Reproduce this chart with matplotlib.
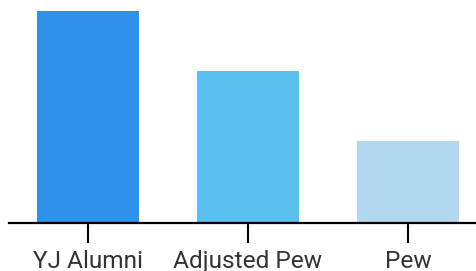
import matplotlib.pyplot as plt

categories = ["YJ Alumni", "Adjusted Pew", "Pew"]
values = [78, 56, 30]
colors = ["#2f92e9", "#5bbfef", "#b3d7ee"]

fig = plt.figure(figsize=(4.77, 2.71), dpi=100)
ax = fig.add_axes([9 / 477, 48 / 271, 468 / 477, 212 / 271])

x = range(len(categories))
ax.bar(x, values, width=0.64, color=colors)

ax.set_xlim(-0.494, 2.431)
ax.set_ylim(0, 78)

for side in ["top", "right", "left"]:
    ax.spines[side].set_visible(False)
ax.spines["bottom"].set_linewidth(1.6)
ax.spines["bottom"].set_color("black")

ax.set_yticks([])
ax.set_xticks(list(x))
ax.set_xticklabels(categories, fontfamily="Roboto", fontsize=17.6, color="#333333")
ax.tick_params(axis="x", length=14.5, width=1.5, color="black", pad=5)

fig.savefig("out.png", dpi=100)
